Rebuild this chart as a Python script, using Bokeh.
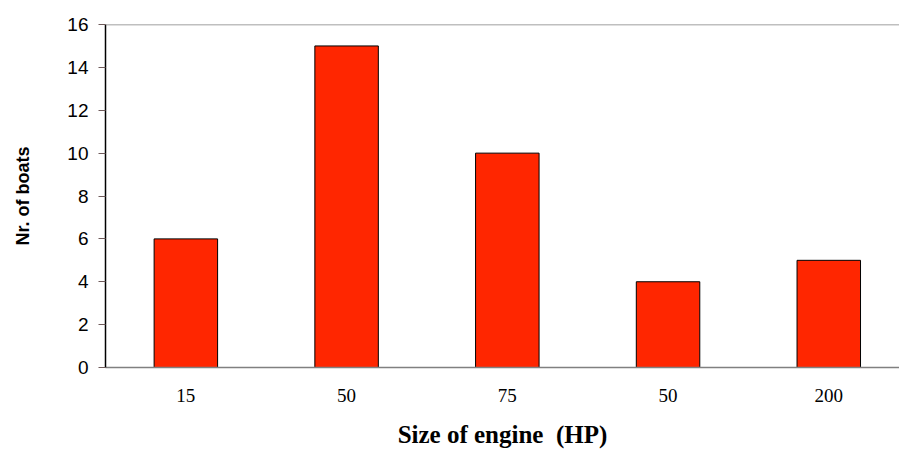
from bokeh.plotting import figure
from bokeh.models import Range1d, FixedTicker, Span, ColumnDataSource
from bokeh.embed import file_html
from bokeh.resources import INLINE

engine_labels = ["15", "50", "75", "50", "200"]
boats = [6, 15, 10, 4, 5]
positions = list(range(len(engine_labels)))

src = ColumnDataSource(dict(x=positions, top=boats))

p = figure(width=899, height=450, output_backend="svg", toolbar_location=None,
           x_range=Range1d(-0.5, 4.44), y_range=Range1d(0, 16),
           min_border_left=105, min_border_top=24, min_border_right=0, min_border_bottom=10)
p.outline_line_color = None
p.xgrid.grid_line_color = None
p.ygrid.grid_line_color = None

p.vbar(x="x", top="top", width=0.395, source=src, fill_color="#FF2600",
       line_color="black", line_width=1)

p.add_layout(Span(location=16, dimension="width", line_color="#808080", line_width=1.5))

xa = p.xaxis[0]
xa.ticker = FixedTicker(ticks=positions)
xa.major_label_overrides = {i: l for i, l in zip(positions, engine_labels)}
xa.major_tick_line_color = None
xa.minor_tick_line_color = None
xa.axis_line_color = "#808080"
xa.axis_line_width = 1.5
xa.major_label_text_font = "Liberation Serif"
xa.major_label_text_font_size = "19px"
xa.major_label_text_color = "black"
xa.major_label_standoff = 15
xa.axis_label = "Size of engine \u00a0(HP)"
xa.axis_label_text_font = "Liberation Serif"
xa.axis_label_text_font_style = "bold"
xa.axis_label_text_font_size = "25px"
xa.axis_label_text_color = "black"
xa.axis_label_standoff = 16

ya = p.yaxis[0]
ya.ticker = FixedTicker(ticks=[0, 2, 4, 6, 8, 10, 12, 14, 16])
ya.minor_tick_line_color = None
ya.major_tick_in = 0
ya.major_tick_out = 7
ya.major_tick_line_color = "#6e5a5a"
ya.axis_line_color = "black"
ya.axis_line_width = 1.5
ya.major_label_text_font = "Liberation Sans"
ya.major_label_text_font_size = "19px"
ya.major_label_text_color = "black"
ya.major_label_standoff = 10
ya.axis_label = "Nr. of boats"
ya.axis_label_text_font = "Liberation Sans"
ya.axis_label_text_font_style = "bold"
ya.axis_label_text_font_size = "18px"
ya.axis_label_text_color = "black"
ya.axis_label_standoff = 31

open("out.html", "w").write(file_html(p, INLINE))
